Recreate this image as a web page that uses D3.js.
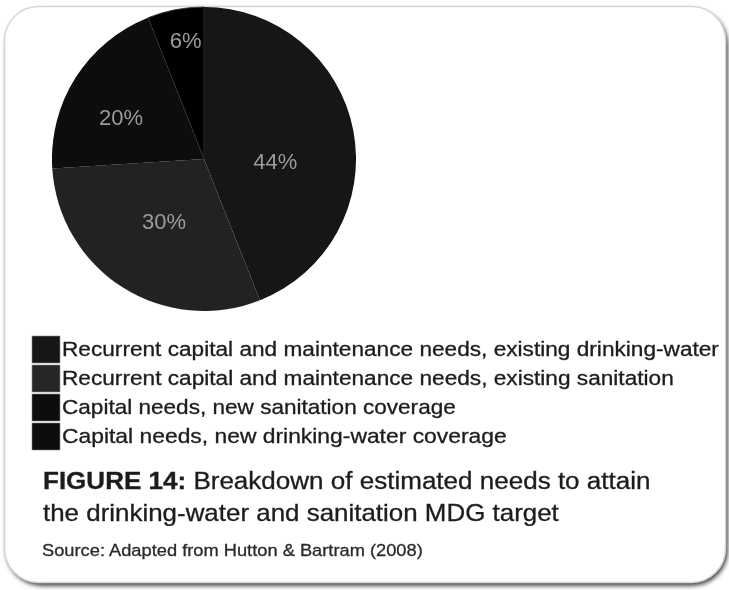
<!DOCTYPE html>
<html>
<head>
<meta charset="utf-8">
<script src="https://cdn.jsdelivr.net/npm/d3@7"></script>
<style>
  html, body { margin: 0; padding: 0; background: #ffffff; }
  svg { display: block; }
  text { font-family: "Liberation Sans", Arial, Helvetica, sans-serif; }
</style>
</head>
<body>
<svg id="chart" width="729" height="590"></svg>
<script>
// ---- data ----
const categories = [
  "Recurrent capital and maintenance needs, existing drinking-water",
  "Recurrent capital and maintenance needs, existing sanitation",
  "Capital needs, new sanitation coverage",
  "Capital needs, new drinking-water coverage"
];
const values = [44, 30, 20, 6];
const sliceLabels = ["44%", "30%", "20%", "6%"];
const titleBold = "FIGURE 14:";
const titleRest = " Breakdown of estimated needs to attain";
const titleLine2 = "the drinking-water and sanitation MDG target";
const sourceText = "Source: Adapted from Hutton & Bartram (2008)";

// ---- styles / layout ----
const sliceColors = ["#121212", "#242424", "#070707", "#040404"];
const legendColors = ["#151515", "#272727", "#070707", "#070707"];
const labelRadiusFrac = [0.47, 0.49, 0.61, 0.79];
const labelTurnDeg = [13, 0, -6, 2];
const legendWidths = [657, 612, 394, 445];

const svg = d3.select("#chart");

// filters
const defs = svg.append("defs");
const f = defs.append("filter").attr("id", "shadow")
  .attr("x", "-5%").attr("y", "-5%").attr("width", "110%").attr("height", "110%");
f.append("feGaussianBlur").attr("stdDeviation", 2.2);
const soft = defs.append("filter").attr("id", "soft")
  .attr("x", "-2%").attr("y", "-2%").attr("width", "104%").attr("height", "104%");
soft.append("feGaussianBlur").attr("stdDeviation", 0.45);

// card with shadow
svg.append("rect")
  .attr("x", 6).attr("y", 9).attr("width", 722).attr("height", 577)
  .attr("rx", 36).attr("ry", 36)
  .attr("fill", "#4a4a4a").attr("filter", "url(#shadow)");
svg.append("rect")
  .attr("x", 4.5).attr("y", 6.5).attr("width", 721).attr("height", 576)
  .attr("rx", 34).attr("ry", 34)
  .attr("fill", "#ffffff").attr("stroke", "#d6d6d6").attr("stroke-width", 1.5);

const content = svg.append("g").attr("filter", "url(#soft)");

// pie
const cx = 204, cy = 159, R = 152;
const pie = d3.pie().sort(null).value(d => d)(values);
const arc = d3.arc().innerRadius(0).outerRadius(R);
const g = content.append("g").attr("transform", `translate(${cx},${cy})`);
g.selectAll("path.slice").data(pie).join("path")
  .attr("class", "slice")
  .attr("d", arc)
  .attr("fill", (d, i) => sliceColors[i])
  .attr("stroke", (d, i) => i === 3 ? "#2e2e2e" : "none")
  .attr("stroke-width", 0.8);

g.selectAll("text.lbl").data(pie).join("text")
  .attr("class", "lbl")
  .attr("x", (d, i) => {
    const a = (d.startAngle + d.endAngle) / 2 + labelTurnDeg[i] * Math.PI / 180;
    return R * labelRadiusFrac[i] * Math.sin(a);
  })
  .attr("y", (d, i) => {
    const a = (d.startAngle + d.endAngle) / 2 + labelTurnDeg[i] * Math.PI / 180;
    return -R * labelRadiusFrac[i] * Math.cos(a);
  })
  .attr("text-anchor", "middle")
  .attr("dominant-baseline", "central")
  .attr("fill", "#9c9c9c")
  .attr("font-size", 22)
  .text((d, i) => sliceLabels[i]);

// helper to stretch text to a target width
function fitWidth(sel, x, y, target) {
  const w = sel.node().getComputedTextLength();
  sel.attr("transform", `translate(${x},${y}) scale(${target / w},1)`);
}

// legend
const legTop = 336, legStep = 29, swH = 27;
const leg = content.append("g");
categories.forEach((c, i) => {
  leg.append("rect")
    .attr("x", 32).attr("y", legTop + i * legStep)
    .attr("width", 28).attr("height", swH)
    .attr("fill", legendColors[i])
    .attr("stroke", "#8a8a8a").attr("stroke-width", 0.6);
  const t = leg.append("text")
    .attr("font-size", 20)
    .attr("fill", "#1c1c1c")
    .attr("stroke", "#1c1c1c").attr("stroke-width", 0.3)
    .text(c);
  fitWidth(t, 62, legTop + i * legStep + 20, legendWidths[i]);
});

// title
const t1 = content.append("text").attr("font-size", 23).attr("fill", "#1c1c1c")
  .attr("stroke", "#1c1c1c").attr("stroke-width", 0.3);
t1.append("tspan").attr("font-weight", "bold").text(titleBold);
t1.append("tspan").text(titleRest);
fitWidth(t1, 43, 489, 608);

const t2 = content.append("text").attr("font-size", 23).attr("fill", "#1c1c1c")
  .attr("stroke", "#1c1c1c").attr("stroke-width", 0.3).text(titleLine2);
fitWidth(t2, 43, 521, 516);

const t3 = content.append("text").attr("font-size", 17).attr("fill", "#2a2a2a")
  .attr("stroke", "#2a2a2a").attr("stroke-width", 0.3).text(sourceText);
fitWidth(t3, 42, 556, 381);
</script>
</body>
</html>
